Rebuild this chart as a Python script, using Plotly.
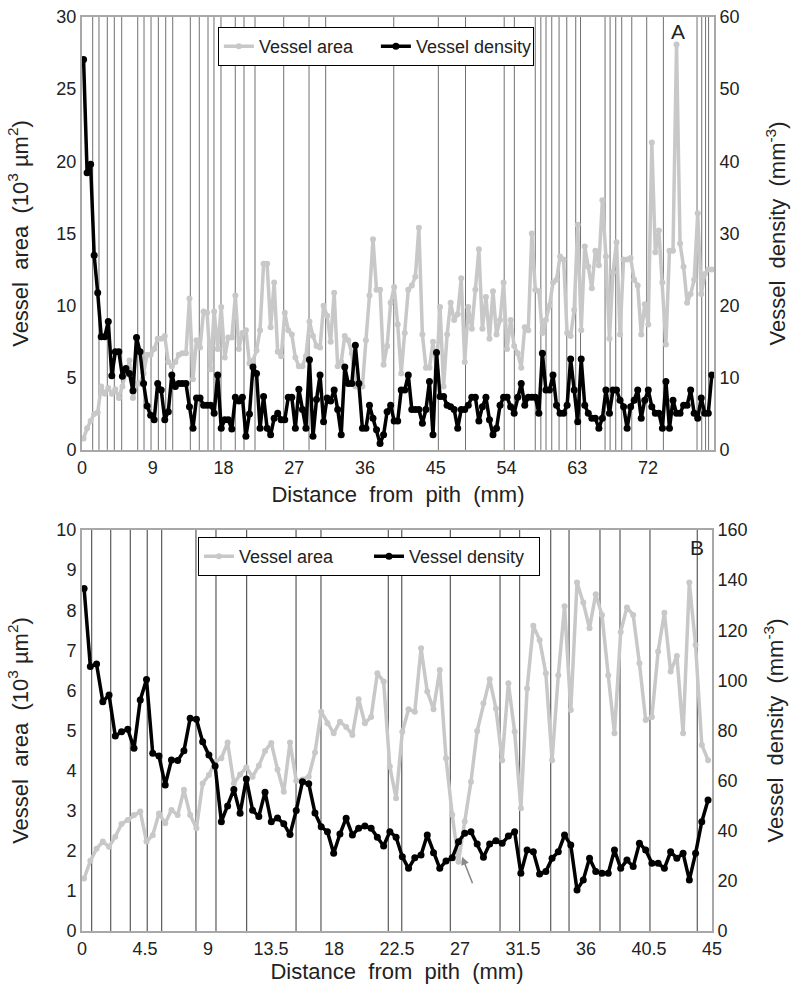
import plotly.graph_objects as go

# ---------------- Panel A data ----------------
A_START_MM = 0.2
A_STEP_MM = 0.449
A_area = [0.8, 1.5, 2.0, 2.5, 2.6, 4.4, 3.9, 4.3, 3.9, 4.2, 3.6, 4.4, 5.3, 6.2, 3.6, 4.6, 4.6, 5.3, 6.6, 6.6,
          7.0, 7.7, 7.7, 7.9, 6.1, 5.8, 6.1, 6.6, 6.7, 6.7, 10.5, 4.9, 7.6, 7.1, 9.6, 9.5, 5.6,
          9.6, 7.0, 9.9, 6.4, 7.8, 7.8, 10.7, 7.0, 8.1, 8.3, 6.0, 6.2, 6.9, 8.3, 12.9, 12.9, 8.5, 11.6,
          6.8, 6.5, 9.5, 8.3, 8.0, 6.4, 5.8, 5.8, 6.5, 8.9, 7.9, 7.2, 7.1, 10.0, 9.3, 7.5, 10.9, 5.8,
          6.1, 7.9, 7.6, 6.7, 4.4, 4.4, 4.4, 7.6, 10.7, 14.6, 11.1, 11.1, 5.9, 7.2, 10.2, 11.3, 8.7, 5.3,
          8.1, 11.1, 11.4, 12.0, 15.4, 8.0, 5.7, 5.7, 7.5, 5.5, 9.9, 4.4, 8.0, 10.2, 9.0, 9.4, 11.9, 6.1, 9.9,
          8.4, 11.1, 13.9, 8.4, 10.6, 7.7, 11.0, 8.0, 9.0, 11.6, 7.0, 9.0, 7.2, 6.7, 5.7, 8.5, 8.3, 15.0,
          11.1, 11.0, 8.1, 9.0, 10.0, 11.6, 11.8, 13.4, 13.2, 8.1, 7.9, 9.7, 15.6, 8.3,
          14.1, 12.7, 11.2, 13.8, 12.8, 17.3, 13.4, 7.7, 12.3, 14.4, 8.0, 13.2, 13.2, 13.3, 11.8, 11.4,
          8.0, 10.1, 8.7, 21.3, 13.7, 15.2, 11.6, 7.3, 13.8, 13.8, 28.1, 14.3, 12.7, 10.2, 10.8, 11.8,
          16.4, 10.8, 12.2, 12.5, 12.5]
A_density = [54.1, 38.4, 39.6, 27.0, 21.8, 15.7, 15.7, 17.8, 10.3, 13.6, 13.6, 10.2, 11.3, 10.6, 8.2, 15.6,
             13.6, 9.2, 6.1, 4.8, 4.2, 9.2, 8.3, 4.2, 5.3, 10.4, 8.8, 9.2, 9.2, 9.2, 6.0, 3.0, 7.2, 7.2,
             6.2, 6.2, 6.2,
             5.1, 10.4, 3.0, 4.2, 4.2, 2.9, 7.3, 6.8, 7.3, 1.9, 5.0, 11.5, 10.6, 3.0, 7.4, 3.0, 2.1, 4.4,
             5.1, 4.2, 4.2, 7.3, 7.3, 3.0, 8.4, 5.6, 3.0, 12.5, 1.9, 7.0, 10.4, 3.9, 7.2, 6.8, 8.3, 5.6,
             2.1, 11.5, 9.2, 9.2, 14.5, 9.2, 3.0, 3.0, 6.2, 4.4, 2.8, 0.9, 2.1, 5.3, 6.2, 4.0, 4.0, 8.3,
             8.3, 10.4, 5.6, 5.6, 5.6, 3.7, 5.6, 9.5, 2.1, 13.5, 7.4, 7.4, 6.2, 6.0, 5.6, 3.0, 5.6, 5.6, 6.2,
             7.3, 7.3, 4.0, 6.0, 7.3, 4.2, 2.1, 3.0, 6.2, 7.3, 7.3, 6.0, 5.1, 7.3, 9.2, 6.2, 7.3, 7.3,
             7.3, 5.1, 13.4, 8.3, 8.3, 10.4, 6.2, 5.1, 5.1, 6.2, 12.6, 8.3, 3.9, 12.6,
             6.2, 5.1, 4.4, 4.4, 3.0, 4.4, 8.3, 5.1, 8.3, 8.3, 6.9, 6.0, 3.0, 6.0, 6.9, 8.3, 4.4, 6.9,
             8.3, 6.0, 5.1, 5.1, 3.0, 9.5, 3.0, 6.9, 5.1, 5.1, 6.2, 6.2, 8.3, 5.1, 4.4, 7.2, 5.1, 5.1, 10.4]
A_rings = [1.36, 2.16, 3.22, 4.11, 5.05, 7.09, 7.89, 8.78, 9.71, 10.65, 11.54, 13.78, 14.92, 16.03,
           16.79, 17.68, 19.50, 20.61, 22.01, 25.66, 28.88, 31.0, 39.66, 45.33, 48.79, 53.71, 55.0,
           57.66, 58.37, 59.03, 59.76, 60.69, 61.67, 62.81, 63.42, 66.54, 67.18, 67.90, 68.66, 69.94,
           71.84, 73.96, 78.24, 78.84, 79.33, 79.71]
A_xticks = [0, 9, 18, 27, 36, 45, 54, 63, 72]

# ---------------- Panel B data ----------------
B_START_MM = 0.15
B_STEP_MM = 0.4457
B_area = [1.31, 1.75, 2.05, 2.23, 2.10, 2.35, 2.67, 2.77, 2.89, 2.98,
          2.23, 2.39, 2.93, 2.69, 3.02, 2.89, 3.52, 2.89, 2.56, 3.68,
          3.89, 4.22, 4.31, 4.70, 3.68, 3.90, 4.08, 3.85, 4.12, 4.49,
          4.69, 4.03, 3.47, 4.70, 3.75, 3.78, 3.85, 4.45, 5.47, 5.18,
          4.93, 5.22, 5.09, 4.89, 5.78, 5.18, 5.34, 6.43, 6.22, 4.10,
          3.31, 4.97, 5.53, 5.47, 7.05, 5.97, 5.53, 6.51, 4.31, 2.90,
          1.73, 2.73, 3.72, 4.99, 5.68, 6.28, 5.55, 4.26, 6.18, 4.97,
          3.06, 6.05, 7.61, 7.26, 6.43, 4.26, 6.38, 8.10, 5.51, 8.69,
          8.19, 7.55, 8.40, 7.88, 6.38, 4.93, 7.46, 8.07, 7.88, 6.68,
          5.26, 5.34, 6.97, 7.94, 6.47, 6.86, 4.93, 8.69, 7.13, 4.64,
          4.26]
B_density = [136.7, 105.5, 106.5, 91.5, 94.2, 77.8, 79.5, 80.5, 72.9, 92.2,
             100.4, 70.9, 69.8, 58.3, 68.2, 68.0, 71.9, 84.9, 84.5, 75.5,
             70.2, 65.8, 43.6, 49.9, 56.5, 47.0, 60.7, 48.2, 45.7, 55.4,
             43.6, 45.1, 42.8, 38.5, 48.1, 59.6, 58.8, 47.1, 41.6, 39.6,
             31.0, 38.7, 45.0, 38.3, 41.0, 41.9, 41.0, 37.4, 33.9, 39.6,
             37.4, 29.6, 25.0, 29.2, 30.3, 38.3, 31.2, 25.0, 27.9, 29.2,
             35.6, 39.0, 39.6, 34.7, 29.4, 34.7, 36.0, 35.0, 37.9, 39.6,
             23.0, 32.3, 31.6, 22.7, 23.7, 29.0, 31.6, 38.3, 34.3, 16.4,
             20.4, 29.0, 23.7, 23.0, 23.0, 32.3, 25.0, 28.3, 25.7, 35.0,
             32.3, 27.0, 27.0, 25.0, 31.6, 29.0, 31.0, 20.4, 31.0, 43.6,
             52.3]
B_rings = [0.69, 2.05, 3.45, 4.66, 5.69, 8.14, 9.57, 11.76, 15.29, 17.07, 21.88, 22.84, 26.31,
           29.86, 31.26, 33.48, 34.79, 37.0, 38.43, 40.57, 43.95]
B_xticks = [0, 4.5, 9, 13.5, 18, 22.5, 27, 31.5, 36, 40.5, 45]
B_xticklabels = ["0", "4.5", "9", "13.5", "18", "22.5", "27", "31.5", "36", "40.5", "45"]

A_x = [round(A_START_MM + i * A_STEP_MM, 3) for i in range(len(A_area))]
B_x = [round(B_START_MM + i * B_STEP_MM, 3) for i in range(len(B_area))]

GRAY = "#c8c8c8"
BLACK = "#000000"
FONT = "Liberation Sans, Arial, sans-serif"
SP = " \u00a0"

X_TITLE = "Distance" + SP + "from" + SP + "pith" + SP + "(mm)"
YL_TITLE = "Vessel" + SP + "area" + SP + "(10<sup>3</sup>\u00a0µm<sup>2</sup>)"
YR_TITLE = "Vessel" + SP + "density" + SP + "(mm<sup>-3</sup>)"

fig = go.Figure()

fig.add_trace(go.Scatter(x=A_x, y=A_area, name="Vessel area", mode="lines+markers",
                         line=dict(color=GRAY, width=3.5), marker=dict(color=GRAY, size=6),
                         xaxis="x", yaxis="y", legend="legend"))
fig.add_trace(go.Scatter(x=A_x, y=A_density, name="Vessel density", mode="lines+markers",
                         line=dict(color=BLACK, width=3.5), marker=dict(color=BLACK, size=7),
                         xaxis="x", yaxis="y2", legend="legend"))
fig.add_trace(go.Scatter(x=B_x, y=B_area, name="Vessel area", mode="lines+markers",
                         line=dict(color=GRAY, width=3.5), marker=dict(color=GRAY, size=6),
                         xaxis="x2", yaxis="y3", legend="legend2"))
fig.add_trace(go.Scatter(x=B_x, y=B_density, name="Vessel density", mode="lines+markers",
                         line=dict(color=BLACK, width=3.5), marker=dict(color=BLACK, size=7),
                         xaxis="x2", yaxis="y4", legend="legend2"))

shapes = []
for r in A_rings:
    shapes.append(dict(type="line", xref="x", yref="y domain", x0=r, x1=r, y0=0, y1=1,
                       line=dict(color="#707070", width=1), layer="below"))
for r in B_rings:
    shapes.append(dict(type="line", xref="x2", yref="y3 domain", x0=r, x1=r, y0=0, y1=1,
                       line=dict(color="#5a5a5a", width=1.2), layer="below"))

ax_common = dict(showgrid=False, zeroline=False, showline=True, linecolor="#a8a8a8", linewidth=2,
                 tickfont=dict(family=FONT, size=18, color="#222"), ticks="", automargin=False)
title_font = dict(family=FONT, size=22, color="#222")

fig.update_layout(
    width=792, height=997,
    margin=dict(l=82, r=78, t=17, b=66),
    paper_bgcolor="white", plot_bgcolor="white",
    font=dict(family=FONT, color="#222"),
    shapes=shapes,
    xaxis=dict(domain=[0, 1], anchor="y", range=[0, 80.4], tickvals=A_xticks, mirror=True,
               title=dict(text=X_TITLE, font=title_font, standoff=10), **ax_common),
    yaxis=dict(domain=[0.5263, 1], anchor="x", range=[0, 30], dtick=5, mirror=True,
               title=dict(text=YL_TITLE, font=title_font, standoff=22), **ax_common),
    yaxis2=dict(overlaying="y", side="right", anchor="x", range=[0, 60], dtick=10,
                title=dict(text=YR_TITLE, font=title_font, standoff=31), **ax_common),
    xaxis2=dict(domain=[0, 0.9968], anchor="y3", range=[0, 45], tickvals=B_xticks, ticktext=B_xticklabels,
                mirror=True, title=dict(text=X_TITLE, font=title_font, standoff=3), **ax_common),
    yaxis3=dict(domain=[0, 0.4387], anchor="x2", range=[0, 10], dtick=1, mirror=True,
                title=dict(text=YL_TITLE, font=title_font, standoff=22), **ax_common),
    yaxis4=dict(overlaying="y3", side="right", anchor="x2", range=[0, 160], dtick=20,
                title=dict(text=YR_TITLE, font=title_font, standoff=21), **ax_common),
    legend=dict(x=0.215, y=0.989, xanchor="left", yanchor="top", orientation="h",
                bgcolor="white", bordercolor="#000", borderwidth=1,
                font=dict(family=FONT, size=18, color="#222"), entrywidth=112, entrywidthmode="pixels"),
    legend2=dict(x=0.1835, y=0.431, xanchor="left", yanchor="top", orientation="h",
                 bgcolor="white", bordercolor="#000", borderwidth=1,
                 font=dict(family=FONT, size=18, color="#222"), entrywidth=125, entrywidthmode="pixels"),
    annotations=[
        dict(text="A", xref="paper", yref="paper", x=0.943, y=0.9836, xanchor="center", yanchor="middle",
             showarrow=False, font=dict(family=FONT, size=21, color="#222")),
        dict(text="B", xref="paper", yref="paper", x=0.973, y=0.420, xanchor="center", yanchor="middle",
             showarrow=False, font=dict(family=FONT, size=21, color="#222")),
        dict(text="", xref="x2", yref="y3", x=27.15, y=1.85, ax=11, ay=28, showarrow=True,
             arrowhead=2, arrowsize=1, arrowwidth=1.6, arrowcolor="#8a8a8a"),
    ],
)

fig.write_html("out.html", config={"displayModeBar": False},
               post_script="document.body.style.margin='0';")
